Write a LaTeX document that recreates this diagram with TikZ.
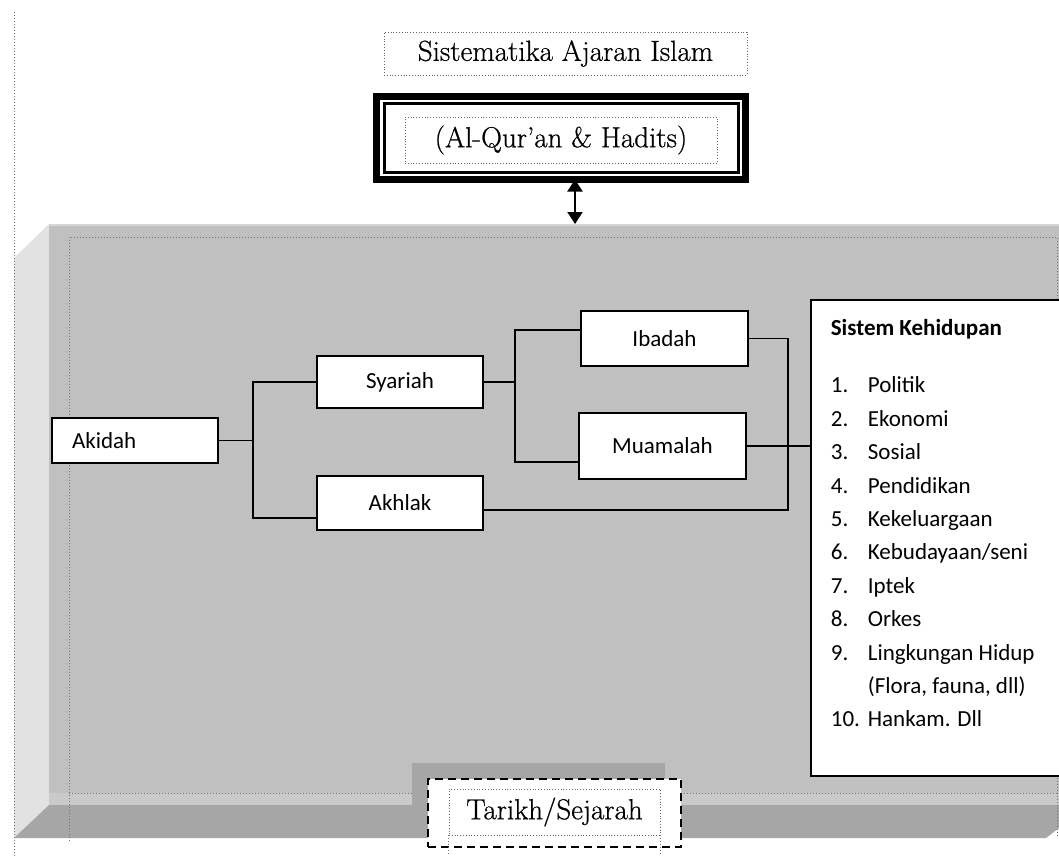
\documentclass[tikz,border=0pt]{standalone}
\usepackage{fontspec}
\newfontfamily\calibri{Carlito}
\newfontfamily\antiqua{Latin Modern Roman}[FakeBold=0.6,Ligatures=TeX]
\usetikzlibrary{arrows.meta,shadows,positioning}

\definecolor{panelFront}{RGB}{192,192,192}
\definecolor{panelSide}{RGB}{226,226,226}
\definecolor{panelBottom}{RGB}{166,166,166}
\definecolor{panelStrip}{RGB}{202,202,202}
\definecolor{panelEdge}{RGB}{214,214,214}

\tikzset{
  box/.style={draw, line width=0.85pt, fill=white, inner sep=0pt,
    font=\calibri\fontsize{11.5}{14}\selectfont},
  dotbox/.style={draw=black!60, densely dotted, fill=white, inner sep=0pt,
    font=\antiqua\fontsize{14.5}{17}\selectfont},
  guide/.style={draw=black!55, densely dotted, line width=0.5pt},
  link/.style={line width=0.9pt},
}

\begin{document}
\begin{tikzpicture}[x=0.5pt,y=-0.5pt]
  \useasboundingbox (0,0) rectangle (1059,856);

  % the grey panel
  \fill[panelSide] (14,258) -- (49,224) -- (49,805) -- (14,838) -- cycle;
  \fill[panelFront] (49,224) rectangle (1059,805);
  \fill[panelStrip] (49,793) rectangle (1059,805);
  \fill[panelBottom] (14,838) -- (49,805) -- (1059,805) -- (1059,828) -- (1046,838) -- cycle;
  \draw[panelEdge, line width=1pt] (49,224.5) -- (1059,224.5);
  \coordinate (panelTop) at (575,224);
  \coordinate (pageBottom) at (0,856);

  % dotted guide lines
  \draw[guide] (14,12) -- (14,856);
  \draw[guide] (69,841) -- (69,237) -- (1057,237) -- (1057,838);
  \draw[guide] (69,793) -- (1057,793);

  % title and source
  \node[dotbox, minimum width=181.5pt, minimum height=21.5pt] (title) at (565.5,53.5) {Sistematika Ajaran Islam};
  \node[draw, line width=3.5pt, fill=white, outer sep=0pt, inner sep=0pt,
        minimum width=184.5pt, minimum height=41.5pt] (quran) at (561,138) {};
  \draw[line width=1.5pt] ([shift={(3.75pt,-3.75pt)}]quran.north west) rectangle ([shift={(-3.75pt,3.75pt)}]quran.south east);
  \node[dotbox, minimum width=156pt, minimum height=23pt] (qtext) at (561,140) {(Al-Qur’an \& Hadits)};
  \draw[{Triangle[width=7.5pt,length=6pt]}-{Triangle[width=7.5pt,length=6pt]}, line width=1pt] (quran.south -| panelTop) -- (panelTop);

  % tree
  \node[box, text width=63pt, align=left, inner xsep=10pt, minimum height=22.5pt] (akidah) at (135,440.5) {Akidah};
  \node[box, minimum width=83pt, minimum height=26pt] (syariah) at (400,382) {Syariah};
  \node[box, minimum width=83pt, minimum height=27pt] (akhlak) at (400,503) {Akhlak};
  \node[box, minimum width=83.5pt, minimum height=27.5pt] (ibadah) at (664.5,338.5) {Ibadah};
  \node[box, minimum width=83.5pt, minimum height=33pt] (muamalah) at (662.5,446) {Muamalah};

  \node[box, anchor=north west, inner xsep=10pt, inner ysep=0pt] (sistem) at (810,299) {%
    \begin{minipage}[c][238pt][t]{112pt}
      \fontsize{11.5}{16.7}\selectfont
      \vspace*{10pt}
      \textbf{Sistem Kehidupan}\\[11.8pt]
      \makebox[18.5pt][l]{1.}Politik\\
      \makebox[18.5pt][l]{2.}Ekonomi\\
      \makebox[18.5pt][l]{3.}Sosial\\
      \makebox[18.5pt][l]{4.}Pendidikan\\
      \makebox[18.5pt][l]{5.}Kekeluargaan\\
      \makebox[18.5pt][l]{6.}Kebudayaan/seni\\
      \makebox[18.5pt][l]{7.}Iptek\\
      \makebox[18.5pt][l]{8.}Orkes\\
      \makebox[18.5pt][l]{9.}Lingkungan Hidup\\
      \hspace*{18.5pt}(Flora, fauna, dll)\\
      \makebox[18.5pt][l]{10.}Hankam. Dll
    \end{minipage}};

  \coordinate (j1) at (253,518);
  \coordinate (j2a) at (515,330);
  \coordinate (j2b) at (515,462);
  \coordinate (j3a) at (788,341);
  \coordinate (j3b) at (788,510);
  \draw[link] (akidah.east) -- (akidah.east -| j1);
  \draw[link] (syariah.west) -| (j1) -- (akhlak.west |- j1);
  \draw[link] (syariah.east) -- (syariah.east -| j2a);
  \draw[link] (ibadah.west |- j2a) -- (j2a) -- (j2b) -- (muamalah.west |- j2b);
  \draw[link] (ibadah.east) -| (j3b) -- (akhlak.east |- j3b);
  \draw[link] (muamalah.east) -- (muamalah.east -| sistem.west);

  % tarikh
  \node[draw, dashed, dash pattern=on 4pt off 2.5pt, line width=1.3pt, fill=white,
        minimum width=126.5pt, minimum height=34pt,
        general shadow={fill=panelBottom, shadow xshift=-8pt, shadow yshift=8pt}] (tarikh) at (554.5,813) {};
  \node[dotbox, minimum width=105.5pt, minimum height=23pt] (tText) at (554.5,812) {Tarikh/Sejarah};
  \draw[guide] (tText.south west) -- (tText.south west |- pageBottom);
  \draw[guide] (tText.south east) -- (tText.south east |- pageBottom);
\end{tikzpicture}
\end{document}
